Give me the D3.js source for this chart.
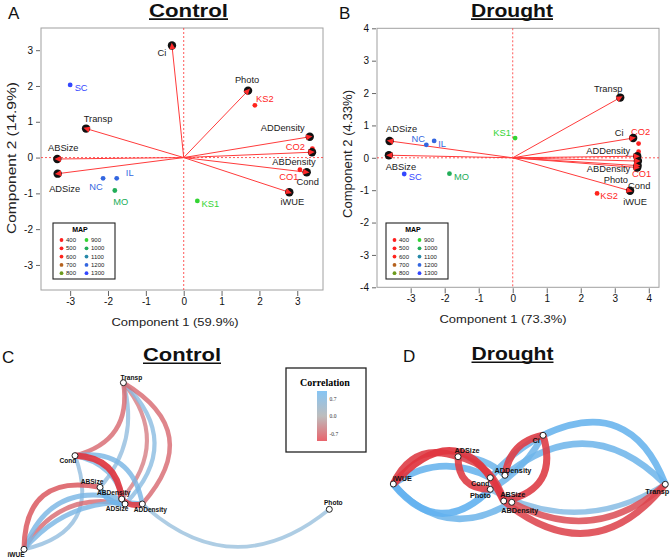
<!DOCTYPE html>
<html>
<head>
<meta charset="utf-8">
<script src="https://cdn.jsdelivr.net/npm/d3@7"></script>
<style>
  body { margin: 0; background: #fff; }
  svg { display: block; font-family: "Liberation Sans", Arial, sans-serif; }
</style>
</head>
<body>
<svg id="fig" width="672" height="559"></svg>
<script>
// ---------- data ----------
var mapLevels = [400, 500, 600, 700, 800, 900, 1000, 1100, 1200, 1300];
var mapColors = ["#ff1f1f", "#ff1f1f", "#ff241c", "#b5621d", "#6c9a1c",
                 "#33d433", "#22ad58", "#2688a8", "#3366e0", "#3347ff"];

var siteNames = ["CO1", "CO2", "KS1", "KS2", "MO", "IL", "NC", "SC"];
var siteMAP   = [400, 500, 900, 600, 1000, 1200, 1200, 1300];

// PCA control
var ctrlVarNames = ["Ci", "Photo", "Transp", "ABSize", "ADSize", "ADDensity", "ABDensity", "Cond", "iWUE"];
var ctrlVarPC1   = [-0.31, 1.70, -2.58, -3.34, -3.33, 3.33, 3.39, 3.25, 2.79];
var ctrlVarPC2   = [3.13, 1.87, 0.81, -0.04, -0.45, 0.58, 0.15, -0.41, -0.97];
var ctrlSitePC1  = [3.07, 3.40, 0.36, 1.88, -1.82, -1.77, -2.13, -3.00];
var ctrlSitePC2  = [-0.34, 0.25, -1.21, 1.46, -0.92, -0.58, -0.58, 2.03];

// PCA drought
var drVarNames = ["Transp", "Ci", "ADSize", "ABSize", "ADDensity", "Photo", "ABDensity", "Cond", "iWUE"];
var drVarPC1   = [3.16, 3.54, -3.62, -3.64, 3.66, 3.68, 3.67, 3.66, 3.45];
var drVarPC2   = [1.86, 0.61, 0.52, 0.08, 0.05, -0.10, -0.24, -0.30, -1.02];
var drSitePC1  = [3.70, 3.70, 0.07, 2.48, -1.86, -2.31, -2.54, -3.19];
var drSitePC2  = [0.19, 0.44, 0.61, -1.10, -0.49, 0.52, 0.40, -0.50];

// correlation networks (layout coordinates in [-1, 1])
var ctrlNodes = ["Transp", "Cond", "ABSize", "ABDensity", "ADSize", "ADDensity", "Photo", "iWUE"];
var ctrlNodeX = [-0.349, -0.666, -0.502, -0.360, -0.338, -0.225, 1.0, -1.0];
var ctrlNodeY = [1.0, 0.124, -0.256, -0.396, -0.456, -0.456, -0.520, -1.0];
var ctrlEdges = [
  ["Cond", "Transp", -0.55], ["Transp", "ABSize", 0.45], ["Transp", "ABDensity", -0.45],
  ["Transp", "ADSize", 0.5], ["Transp", "ADDensity", -0.55], ["Cond", "ABDensity", -0.85],
  ["Cond", "ADDensity", 0.6], ["Cond", "ADSize", 0.55], ["Cond", "iWUE", 0.45],
  ["iWUE", "ABSize", -0.65], ["iWUE", "ABDensity", 0.6], ["iWUE", "ADSize", -0.55],
  ["iWUE", "ADDensity", 0.6], ["ABSize", "ADSize", 0.7], ["ABDensity", "ADDensity", -0.8],
  ["ADDensity", "Photo", 0.4]
];

var drNodes = ["iWUE", "ADSize", "Ci", "ADDensity", "Cond", "Photo", "ABSize", "ABDensity", "Transp"];
var drNodeX = [-1.0, -0.524, 0.101, -0.179, -0.287, -0.287, -0.188, -0.129, 1.0];
var drNodeY = [-0.454, 0.361, 1.0, -0.194, -0.266, -0.612, -0.961, -1.0, -0.463];
var drEdges = [
  ["iWUE", "ADSize", -0.8], ["iWUE", "ABSize", -0.85], ["iWUE", "Cond", 0.75],
  ["iWUE", "Photo", 0.8], ["iWUE", "ABDensity", 0.7], ["ADSize", "Photo", -0.8],
  ["ADSize", "ABSize", -0.75], ["ADSize", "ADDensity", 0.7], ["Ci", "ADDensity", -0.8],
  ["Ci", "ABSize", -0.8], ["Ci", "Cond", 0.7], ["Ci", "Photo", 0.7],
  ["Ci", "Transp", 0.75], ["ADDensity", "Transp", 0.7], ["ABSize", "Transp", -0.75],
  ["ABDensity", "Transp", -0.7], ["Photo", "Transp", 0.55]
];

// ---------- layout / style (not data) ----------
var ctrlEdgeBend = [0.45, -0.27, -0.42, -0.5, -0.6, -0.43, -0.48, -0.32, -0.57, -0.6, -0.45, -0.36, -0.27, 0.35, 0.3, 0.43];
var drEdgeBend = [-0.45, -0.75, -0.3, 0.55, 0.42, 0.5, -0.3, -0.2, 0.35, -0.55, 0.1, -0.15, -0.54, -0.45, 0.5, 0.35, 0.29];

// label nudges (px)
var nudgeA = {
  Ci: [-10, 7], Photo: [-1, -11], Transp: [12, -10], ABSize: [6, -11], ADSize: [7, 15],
  ADDensity: [-27, -9], ABDensity: [-18, 10], Cond: [1, 10], iWUE: [3, 10],
  SC: [11, 3], KS2: [10, -6], CO2: [-17, -2], CO1: [-11, 7], NC: [-7, 9],
  IL: [13, -5], MO: [6, 12], KS1: [13, 3]
};
var nudgeB = {
  Transp: [-12, -9], Ci: [-14, -5], ADSize: [12, -12], ABSize: [12, 12],
  ADDensity: [-29, -5], Photo: [-22, 19], ABDensity: [-29, 3], Cond: [2, 18.5], iWUE: [5, 11],
  CO2: [2, -12], CO1: [3, 22], KS2: [12, 3], KS1: [-13, -5], NC: [-8, -6],
  IL: [8, 3], SC: [11, 3], MO: [12, 3]
};
var nudgeC = {
  Transp: [8, -5], Cond: [-7, 5], ABSize: [-8, -6], ABDensity: [-8, -6], ADSize: [-8, 5],
  ADDensity: [8, 6], Photo: [4, -7], iWUE: [-8, 5]
};
var nudgeD = {
  iWUE: [9, -6], ADSize: [9, -6], Cond: [-10, 6], Photo: [-10, 6], ADDensity: [8, -5],
  ABSize: [9, -6], ABDensity: [8, 8], Ci: [-7, 5], Transp: [-8, 7]
};

var svg = d3.select("#fig");
var mapColor = d3.scaleOrdinal().domain(mapLevels).range(mapColors);

function title(txt, cx, base, len, letter, lx) {
  svg.append("text").attr("x", cx).attr("y", base).attr("text-anchor", "middle")
    .attr("font-size", 18.5).attr("font-weight", "bold").attr("fill", "#111")
    .attr("textLength", len).attr("lengthAdjust", "spacingAndGlyphs").text(txt);
  svg.append("line").attr("x1", cx - len / 2).attr("x2", cx + len / 2)
    .attr("y1", base + 2.3).attr("y2", base + 2.3).attr("stroke", "#111").attr("stroke-width", 1.6);
  svg.append("text").attr("x", lx).attr("y", base + 2).attr("font-size", 17).attr("fill", "#111").text(letter);
}

function biplot(o) {
  var g = svg.append("g");
  var x = d3.scaleLinear().domain(o.xDom).range([o.left, o.right]);
  var y = d3.scaleLinear().domain(o.yDom).range([o.bottom, o.top]);

  g.append("rect").attr("x", o.left).attr("y", o.top)
    .attr("width", o.right - o.left).attr("height", o.bottom - o.top)
    .attr("fill", "none").attr("stroke", "#a0a0a0").attr("stroke-width", 1);

  g.append("g").attr("transform", `translate(0,${o.bottom + 1})`)
    .call(d3.axisBottom(x).tickValues(o.xTicks).tickSize(5).tickPadding(2).tickFormat(d => String(d)))
    .call(a => a.select(".domain").remove())
    .call(a => a.selectAll(".tick line").attr("stroke", "#666"))
    .call(a => a.selectAll("text").attr("font-size", 10).attr("fill", "#111")
      .attr("font-family", "Liberation Sans, Arial, sans-serif"));

  g.append("g").attr("transform", `translate(${o.left - 1},0)`)
    .call(d3.axisLeft(y).tickValues(o.yTicks).tickSize(4).tickPadding(3).tickFormat(d => String(d)))
    .call(a => a.select(".domain").remove())
    .call(a => a.selectAll(".tick line").attr("stroke", "#666"))
    .call(a => a.selectAll("text").attr("font-size", 10).attr("fill", "#111")
      .attr("font-family", "Liberation Sans, Arial, sans-serif"));

  // axis titles
  g.append("text").attr("x", o.xLabX).attr("y", o.bottom + 36).attr("text-anchor", "middle")
    .attr("font-size", 11.5).attr("fill", "#222").attr("textLength", o.xLabLen)
    .attr("lengthAdjust", "spacingAndGlyphs").text(o.xLab);
  g.append("text").attr("transform", `translate(${o.yLabX},${o.yLabY}) rotate(-90)`)
    .attr("text-anchor", "middle").attr("dominant-baseline", "central")
    .attr("font-size", 12).attr("fill", "#222").attr("textLength", o.yLabLen)
    .attr("lengthAdjust", "spacingAndGlyphs").text(o.yLab);

  // reference lines
  g.append("line").attr("x1", x(0)).attr("x2", x(0)).attr("y1", o.top).attr("y2", o.bottom)
    .attr("stroke", "#ff3030").attr("stroke-dasharray", "2,2").attr("stroke-width", 0.8);
  g.append("line").attr("x1", o.left).attr("x2", o.right).attr("y1", y(0)).attr("y2", y(0))
    .attr("stroke", "#ff3030").attr("stroke-dasharray", "2,2").attr("stroke-width", 0.8);

  var vars = o.varNames.map((n, i) => ({ name: n, pc1: o.varPC1[i], pc2: o.varPC2[i] }));
  var sites = siteNames.map((n, i) => ({ name: n, pc1: o.sitePC1[i], pc2: o.sitePC2[i], map: siteMAP[i] }));

  // loading arrows
  g.selectAll(".arr").data(vars).join("line").attr("class", "arr")
    .attr("x1", x(0)).attr("y1", y(0))
    .attr("x2", d => x(d.pc1)).attr("y2", d => y(d.pc2))
    .attr("stroke", "#ff3b3b").attr("stroke-width", 1);

  // site points
  g.selectAll(".site").data(sites).join("circle").attr("class", "site")
    .attr("cx", d => x(d.pc1)).attr("cy", d => y(d.pc2)).attr("r", 2.4)
    .attr("fill", d => mapColor(d.map));
  g.selectAll(".sitelab").data(sites).join("text").attr("class", "sitelab")
    .attr("x", d => x(d.pc1) + o.nudge[d.name][0]).attr("y", d => y(d.pc2) + o.nudge[d.name][1])
    .attr("text-anchor", "middle").attr("dominant-baseline", "central")
    .attr("font-size", 9.3).attr("fill", d => mapColor(d.map)).text(d => d.name);

  // arrow heads
  g.selectAll(".dot").data(vars).join("circle").attr("class", "dot")
    .attr("cx", d => x(d.pc1)).attr("cy", d => y(d.pc2)).attr("r", 4.2).attr("fill", "#111");
  g.selectAll(".head").data(vars).join("path").attr("class", "head")
    .attr("d", d => {
      var ex = x(d.pc1), ey = y(d.pc2), dx = ex - x(0), dy = ey - y(0);
      var L = Math.hypot(dx, dy), ux = dx / L, uy = dy / L;
      var tx = ex + 2.8 * ux, ty = ey + 2.8 * uy, bx = ex - 3.6 * ux, by = ey - 3.6 * uy;
      return `M${tx},${ty}L${bx - 3 * uy},${by + 3 * ux}L${bx + 3 * uy},${by - 3 * ux}Z`;
    })
    .attr("fill", "#ff2a2a");
  g.selectAll(".varlab").data(vars).join("text").attr("class", "varlab")
    .attr("x", d => x(d.pc1) + o.nudge[d.name][0]).attr("y", d => y(d.pc2) + o.nudge[d.name][1])
    .attr("text-anchor", "middle").attr("dominant-baseline", "central")
    .attr("font-size", 9.3).attr("fill", "#1a1a1a").text(d => d.name);

  // MAP legend
  var lg = g.append("g").attr("transform", `translate(${o.legX},${o.legY})`);
  lg.append("rect").attr("width", 62).attr("height", 56).attr("fill", "#fff")
    .attr("stroke", "#222").attr("stroke-width", 1.1);
  lg.append("text").attr("x", 27).attr("y", 6.5).attr("text-anchor", "middle")
    .attr("dominant-baseline", "central").attr("font-size", 7).attr("font-weight", "bold").text("MAP");
  var items = lg.selectAll(".it").data(mapLevels).join("g").attr("class", "it")
    .attr("transform", (d, i) => `translate(${i < 5 ? 8.5 : 33.5},${17 + (i % 5) * 8.3})`);
  items.append("circle").attr("r", 1.9).attr("fill", d => mapColor(d));
  items.append("text").attr("x", 4.5).attr("dominant-baseline", "central")
    .attr("font-size", 6).attr("fill", "#222").text(d => d);
}

var corrColor = d3.scaleLinear().domain([-0.85, 0, 0.85]).range(["#e0353f", "#c6c6c6", "#5cb1f2"]).clamp(true);

function network(o) {
  var g = svg.append("g");
  var x = d3.scaleLinear().domain([-1, 1]).range(o.xr);
  var y = d3.scaleLinear().domain([-1, 1]).range(o.yr);
  var pos = {};
  o.nodes.forEach((n, i) => { pos[n] = [x(o.nx[i]), y(o.ny[i])]; });

  var edges = o.edges.map((e, i) => ({ a: e[0], b: e[1], r: e[2], bend: o.bend[i] }))
    .sort((p, q) => Math.abs(p.r) - Math.abs(q.r));

  g.selectAll(".edge").data(edges).join("path").attr("class", "edge")
    .attr("d", d => {
      var p0 = pos[d.a], p1 = pos[d.b];
      var dx = p1[0] - p0[0], dy = p1[1] - p0[1];
      var cx = (p0[0] + p1[0]) / 2 - d.bend * dy, cy = (p0[1] + p1[1]) / 2 + d.bend * dx;
      return `M${p0[0]},${p0[1]}Q${cx},${cy} ${p1[0]},${p1[1]}`;
    })
    .attr("fill", "none").attr("stroke", d => corrColor(d.r))
    .attr("stroke-opacity", d => 0.6 + 0.38 * Math.abs(d.r))
    .attr("stroke-width", d => (1.5 + 5.5 * Math.abs(d.r)) * o.wScale);

  g.selectAll(".node").data(o.nodes).join("circle").attr("class", "node")
    .attr("cx", d => pos[d][0]).attr("cy", d => pos[d][1]).attr("r", 3)
    .attr("fill", "#fff").attr("stroke", "#222").attr("stroke-width", 1);
  g.selectAll(".nlab").data(o.nodes).join("text").attr("class", "nlab")
    .attr("x", d => pos[d][0] + o.nudge[d][0]).attr("y", d => pos[d][1] + o.nudge[d][1])
    .attr("text-anchor", "middle").attr("dominant-baseline", "central")
    .attr("font-size", o.fs).attr("font-weight", "bold").attr("fill", "#111").text(d => d);
}

// ---------- panels ----------
title("Control", 188.5, 16.8, 79, "A", 8);
title("Drought", 512, 16.8, 82, "B", 339);
title("Control", 182, 361, 78, "C", 2);
title("Drought", 512.5, 360, 82, "D", 403);

biplot({
  left: 41, right: 323, top: 28, bottom: 290,
  xDom: [-3.77, 3.68], yDom: [-3.7, 3.62],
  xTicks: [-3, -2, -1, 0, 1, 2, 3], yTicks: [-3, -2, -1, 0, 1, 2, 3],
  xLab: "Component 1 (59.9%)", xLabX: 175, xLabLen: 127,
  yLab: "Component 2 (14.9%)", yLabX: 12, yLabY: 158, yLabLen: 152,
  varNames: ctrlVarNames, varPC1: ctrlVarPC1, varPC2: ctrlVarPC2,
  sitePC1: ctrlSitePC1, sitePC2: ctrlSitePC2,
  nudge: nudgeA, legX: 53, legY: 223
});

biplot({
  left: 377, right: 659, top: 28.3, bottom: 287.3,
  xDom: [-3.99, 4.3], yDom: [-4, 4],
  xTicks: [-3, -2, -1, 0, 1, 2, 3, 4], yTicks: [-4, -3, -2, -1, 0, 1, 2, 3, 4],
  xLab: "Component 1 (73.3%)", xLabX: 503, xLabLen: 127,
  yLab: "Component 2 (4.33%)", yLabX: 348, yLabY: 154, yLabLen: 128,
  varNames: drVarNames, varPC1: drVarPC1, varPC2: drVarPC2,
  sitePC1: drSitePC1, sitePC2: drSitePC2,
  nudge: nudgeB, legX: 386, legY: 223
});

network({
  xr: [24, 329.3], yr: [549.3, 382.7],
  nodes: ctrlNodes, nx: ctrlNodeX, ny: ctrlNodeY,
  edges: ctrlEdges, bend: ctrlEdgeBend, nudge: nudgeC, fs: 6.6, wScale: 1
});

network({
  xr: [393.3, 665.3], yr: [502.3, 435.3],
  nodes: drNodes, nx: drNodeX, ny: drNodeY,
  edges: drEdges, bend: drEdgeBend, nudge: nudgeD, fs: 7.3, wScale: 1.2
});

// correlation legend
var cl = svg.append("g");
cl.append("rect").attr("x", 286).attr("y", 368).attr("width", 80).attr("height", 84)
  .attr("fill", "#fff").attr("stroke", "#222").attr("stroke-width", 1.3);
cl.append("text").attr("x", 325).attr("y", 382).attr("text-anchor", "middle")
  .attr("dominant-baseline", "central").attr("font-family", "Liberation Serif, DejaVu Serif, serif")
  .attr("font-weight", "bold").attr("font-size", 10).text("Correlation");
var grad = svg.append("defs").append("linearGradient").attr("id", "cg")
  .attr("x1", 0).attr("x2", 0).attr("y1", 0).attr("y2", 1);
[[0, "#86c5f4"], [0.5, "#bdbdbd"], [1, "#e9646c"]].forEach(s =>
  grad.append("stop").attr("offset", s[0]).attr("stop-color", s[1]));
var cy = d3.scaleLinear().domain([1, -1]).range([391, 441]);
cl.append("rect").attr("x", 317).attr("y", cy(1)).attr("width", 10).attr("height", cy(-1) - cy(1))
  .attr("fill", "url(#cg)");
cl.selectAll(".cl").data([0.7, 0.0, -0.7]).join("text").attr("class", "cl")
  .attr("x", 329.5).attr("y", d => cy(d)).attr("dominant-baseline", "central")
  .attr("font-family", "Liberation Serif, DejaVu Serif, serif").attr("font-size", 5.5)
  .attr("fill", "#333").text(d => d.toFixed(1));
</script>
</body>
</html>
